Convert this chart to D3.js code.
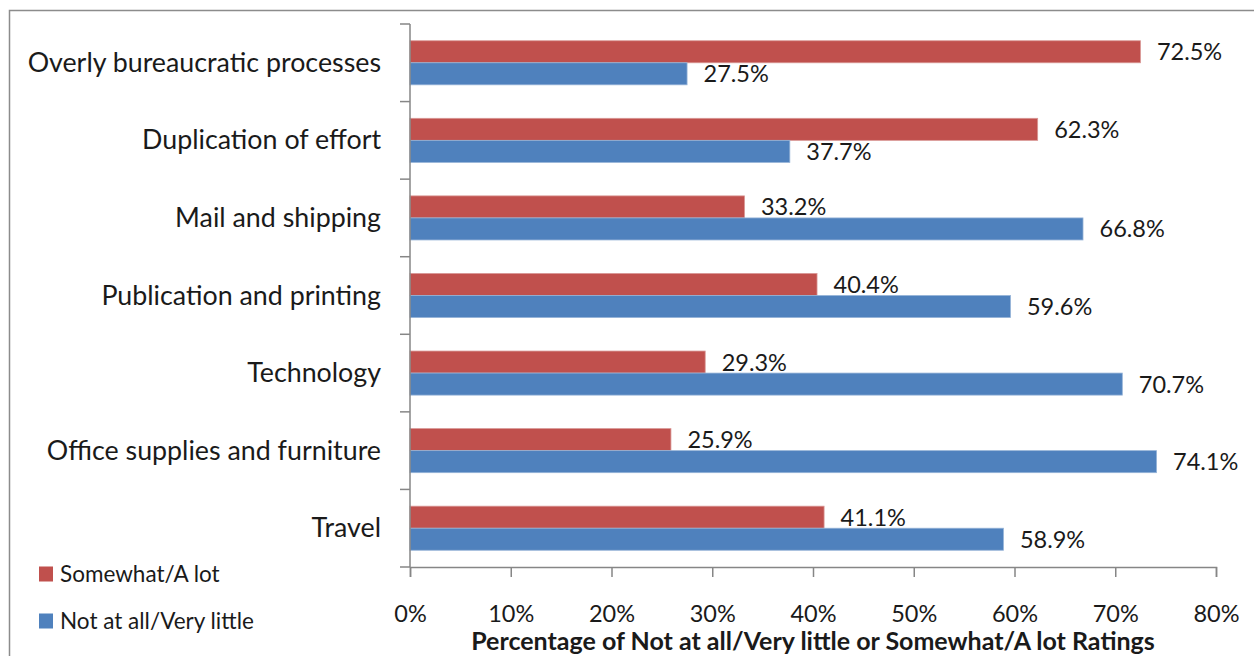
<!DOCTYPE html>
<html>
<head>
<meta charset="utf-8">
<script src="https://cdn.jsdelivr.net/npm/d3@7"></script>
<style>
  html, body { margin: 0; padding: 0; background: #fff; }
  svg { display: block; }
  text { font-family: Lato, "Open Sans", sans-serif; fill: #1a1a1a; }
</style>
</head>
<body>
<svg id="chart" width="1254" height="656"></svg>
<script>
// Survey categories, top to bottom
const categories = [
  "Overly bureaucratic processes",
  "Duplication of effort",
  "Mail and shipping",
  "Publication and printing",
  "Technology",
  "Office supplies and furniture",
  "Travel"
];
// Share of ratings (%) per category
const somewhatALot = [72.5, 62.3, 33.2, 40.4, 29.3, 25.9, 41.1];
const notAtAllVeryLittle = [27.5, 37.7, 66.8, 59.6, 70.7, 74.1, 58.9];
const seriesNames = ["Somewhat/A lot", "Not at all/Very little"];
const seriesColors = ["#C0504D", "#4F81BD"];
const seriesStrokes = ["#D99795", "#95B3D7"];
const xTicks = [0, 10, 20, 30, 40, 50, 60, 70, 80];
const xTitle = "Percentage of Not at all/Very little or Somewhat/A lot Ratings";

const svg = d3.select("#chart");

// outer chart frame (runs off the right and bottom edges)
svg.append("rect")
  .attr("x", 9.5).attr("y", 10.5)
  .attr("width", 1300).attr("height", 700)
  .attr("fill", "none").attr("stroke", "#8c8c8c").attr("stroke-width", 1.5);

const plot = { left: 410, right: 1216, top: 24, bottom: 567 };

const x = d3.scaleLinear().domain([0, 80]).range([plot.left, plot.right]);
const y = d3.scaleBand().domain(categories).range([plot.top, plot.bottom]).padding(0);
const ySeries = d3.scaleBand().domain(seriesNames).range([0, y.bandwidth()])
  .paddingInner(0).paddingOuter(0.76);

const rows = categories.map((c, i) => ({
  cat: c,
  vals: [somewhatALot[i], notAtAllVeryLittle[i]]
}));

// bars
const g = svg.append("g");
rows.forEach(r => {
  r.vals.forEach((v, s) => {
    const yy = y(r.cat) + ySeries(seriesNames[s]);
    g.append("rect")
      .attr("x", x(0))
      .attr("y", yy)
      .attr("width", x(v) - x(0))
      .attr("height", ySeries.bandwidth())
      .attr("fill", seriesColors[s])
      .attr("stroke", seriesStrokes[s])
      .attr("stroke-width", 0.8);
    g.append("text")
      .attr("x", x(v) + 16.5)
      .attr("y", yy + ySeries.bandwidth() / 2)
      .attr("dy", "0.36em")
      .attr("font-size", 23.5)
      .text(v.toFixed(1) + "%");
  });
});

const axisColor = "#868686";

// vertical category axis with ticks between categories
svg.append("line")
  .attr("x1", x(0)).attr("x2", x(0))
  .attr("y1", plot.top).attr("y2", plot.bottom)
  .attr("stroke", axisColor).attr("stroke-width", 1.5);
const bounds = categories.map(c => y(c)).concat([plot.bottom]);
svg.selectAll(".ytick").data(bounds).enter().append("line")
  .attr("x1", x(0) - 10).attr("x2", x(0))
  .attr("y1", d => d).attr("y2", d => d)
  .attr("stroke", axisColor).attr("stroke-width", 1.5);
svg.selectAll(".ylab").data(categories).enter().append("text")
  .attr("x", 381)
  .attr("y", d => y(d) + y.bandwidth() / 2)
  .attr("dy", "0.34em")
  .attr("text-anchor", "end")
  .attr("font-size", 26.8)
  .text(d => d);

// horizontal value axis
const xAxis = d3.axisBottom(x).tickValues(xTicks).tickSize(10).tickFormat(d => d + "%");
const xg = svg.append("g").attr("transform", `translate(0,${plot.bottom})`).call(xAxis);
xg.select(".domain").attr("stroke", axisColor).attr("stroke-width", 1.5);
xg.selectAll(".tick line").attr("stroke", axisColor).attr("stroke-width", 1.5);
xg.selectAll(".tick text")
  .attr("y", 47).attr("dy", "0.36em")
  .attr("font-size", 23.5)
  .attr("font-family", "Lato, sans-serif")
  .attr("fill", "#1a1a1a");

svg.append("text")
  .attr("x", 813).attr("y", 641)
  .attr("dy", "0.36em")
  .attr("text-anchor", "middle")
  .attr("font-weight", "bold")
  .attr("font-size", 25)
  .text(xTitle);

// legend
const legend = svg.append("g");
seriesNames.forEach((n, i) => {
  const ly = 574 + i * 47;
  legend.append("rect")
    .attr("x", 39).attr("y", ly - 7.5)
    .attr("width", 14).attr("height", 15)
    .attr("fill", seriesColors[i]);
  legend.append("text")
    .attr("x", 60).attr("y", ly)
    .attr("dy", "0.36em")
    .attr("font-size", 22.5)
    .text(n);
});
</script>
</body>
</html>
